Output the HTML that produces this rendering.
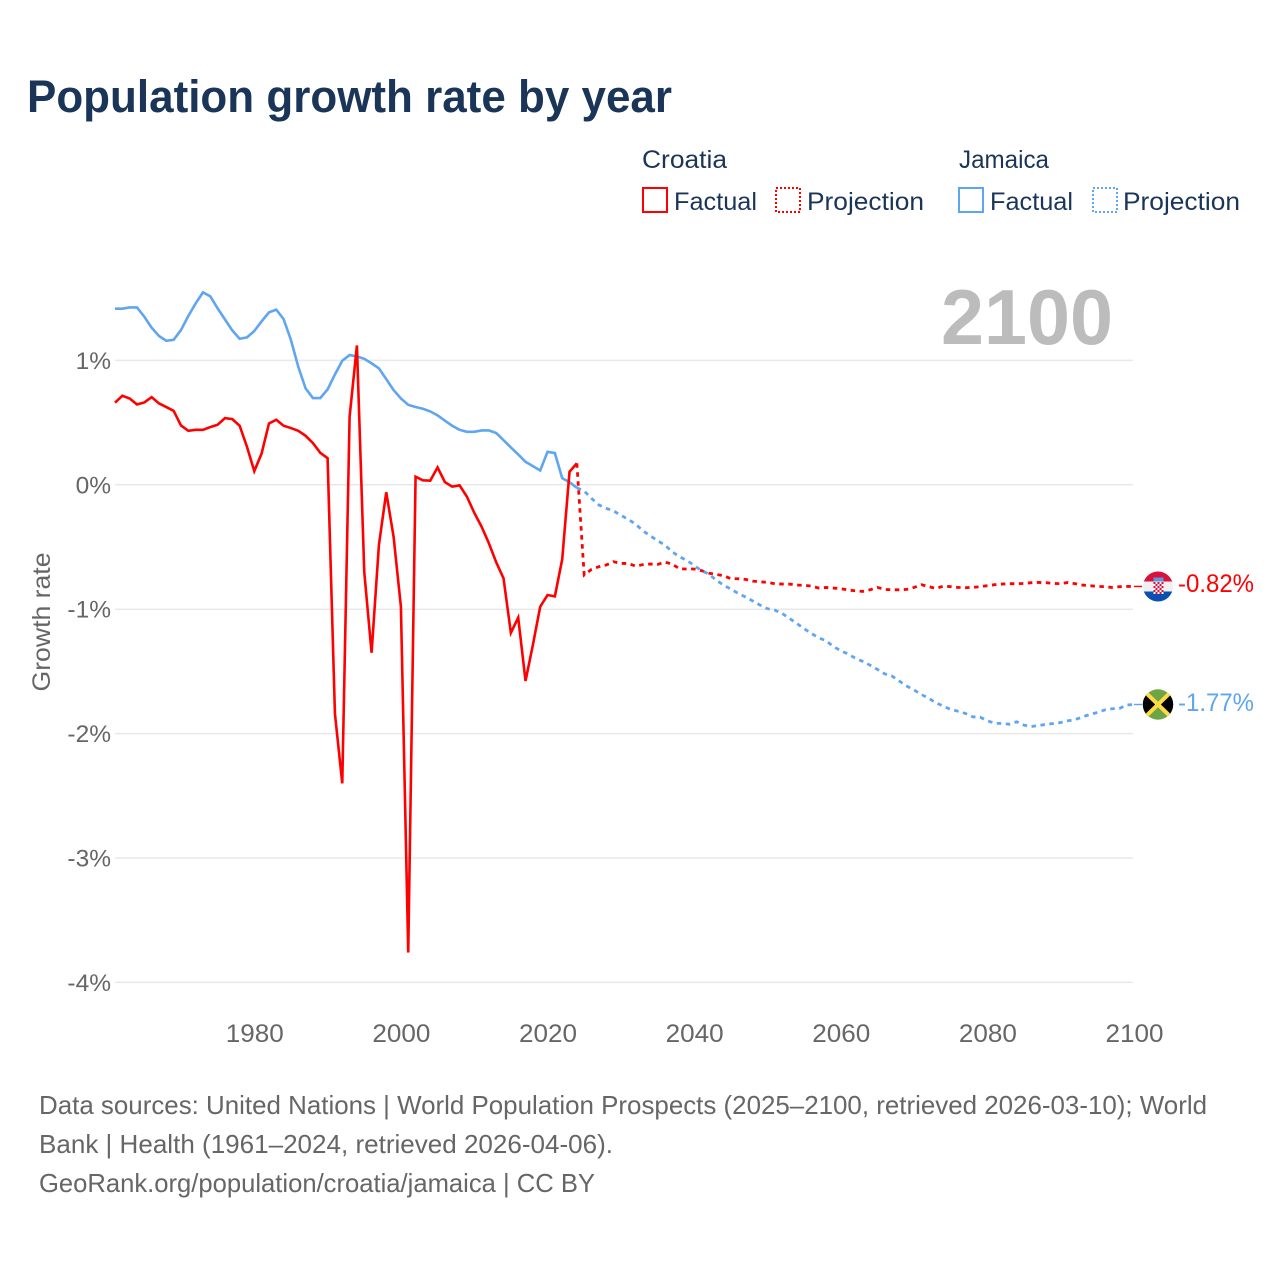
<!DOCTYPE html>
<html lang="en">
<head>
<meta charset="utf-8">
<title>Population growth rate by year</title>
<style>
html,body{margin:0;padding:0;background:#fff;}
svg{display:block;}
text{font-family:"Liberation Sans",sans-serif;}
</style>
</head>
<body>
<svg id="chart" xmlns="http://www.w3.org/2000/svg" width="1280" height="1280" viewBox="0 0 1280 1280">
  <rect width="1280" height="1280" fill="#ffffff"/>
  <text x="27" y="112" font-size="45" font-weight="700" fill="#1a3557" textLength="645" lengthAdjust="spacingAndGlyphs">Population growth rate by year</text>

  <g font-size="25" fill="#1a3557">
    <text x="642" y="168" textLength="85" lengthAdjust="spacingAndGlyphs">Croatia</text>
    <rect x="643" y="188" width="24" height="24" fill="none" stroke="#ff0000" stroke-width="2"/>
    <text x="674" y="210" textLength="83" lengthAdjust="spacingAndGlyphs">Factual</text>
    <rect x="776" y="188" width="24" height="24" fill="none" stroke="#ff0000" stroke-width="2" stroke-dasharray="2 2"/>
    <text x="807" y="210" textLength="117" lengthAdjust="spacingAndGlyphs">Projection</text>
    <text x="959" y="168" textLength="90" lengthAdjust="spacingAndGlyphs">Jamaica</text>
    <rect x="959" y="188" width="24" height="24" fill="none" stroke="#60a5f0" stroke-width="2"/>
    <text x="990" y="210" textLength="83" lengthAdjust="spacingAndGlyphs">Factual</text>
    <rect x="1093" y="188" width="24" height="24" fill="none" stroke="#60a5f0" stroke-width="2" stroke-dasharray="2 2"/>
    <text x="1123" y="210" textLength="117" lengthAdjust="spacingAndGlyphs">Projection</text>
  </g>

  <text x="941" y="344" font-size="78" font-weight="700" fill="#bcbcbc" textLength="172" lengthAdjust="spacingAndGlyphs">2100</text>

  <g id="grid"></g>
  <g id="yticks"></g>
  <g id="xticks"></g>
  <text transform="translate(50,622) rotate(-90)" text-anchor="middle" font-size="25" fill="#666666" textLength="139" lengthAdjust="spacingAndGlyphs">Growth rate</text>
  <g id="series"></g>

  <defs>
    <clipPath id="flag-clip-hr"><circle cx="1158" cy="586.5" r="15"/></clipPath>
    <clipPath id="flag-clip-jm"><circle cx="1158" cy="704.5" r="15.2"/></clipPath>
    <pattern id="hr-checker" x="1153.5" y="582" width="4" height="4" patternUnits="userSpaceOnUse">
      <rect width="4" height="4" fill="#f4f4f4"/>
      <rect width="2" height="2" fill="#d8123c"/>
      <rect x="2" y="2" width="2" height="2" fill="#d8123c"/>
    </pattern>
  </defs>
  <g clip-path="url(#flag-clip-hr)">
    <rect x="1143" y="571" width="30" height="11" fill="#d8123c"/>
    <rect x="1143" y="581.5" width="30" height="10.5" fill="#f0f0f0"/>
    <rect x="1143" y="591.5" width="30" height="11" fill="#0a50b0"/>
    <rect x="1153.5" y="577.5" width="10" height="4" fill="#5a9ae0"/>
    <rect x="1153.5" y="582" width="10" height="12" fill="url(#hr-checker)"/>
  </g>
  <g clip-path="url(#flag-clip-jm)">
    <rect x="1142" y="689" width="32" height="32" fill="#6da544"/>
    <polygon points="1142,689 1158,704.5 1142,720" fill="#000000"/>
    <polygon points="1174,689 1158,704.5 1174,720" fill="#000000"/>
    <line x1="1142" y1="689" x2="1174" y2="720" stroke="#ffda44" stroke-width="4"/>
    <line x1="1174" y1="689" x2="1142" y2="720" stroke="#ffda44" stroke-width="4"/>
  </g>
  <text x="1178" y="592" font-size="25" fill="#ff0000" textLength="76" lengthAdjust="spacingAndGlyphs">-0.82%</text>
  <text x="1178" y="711" font-size="25" fill="#60a5f0" textLength="76" lengthAdjust="spacingAndGlyphs">-1.77%</text>

  <g font-size="26" fill="#666666">
    <text x="39" y="1114" textLength="1168" lengthAdjust="spacingAndGlyphs">Data sources: United Nations | World Population Prospects (2025–2100, retrieved 2026-03-10); World</text>
    <text x="39" y="1153" textLength="574" lengthAdjust="spacingAndGlyphs">Bank | Health (1961–2024, retrieved 2026-04-06).</text>
    <text x="39" y="1192" textLength="556" lengthAdjust="spacingAndGlyphs">GeoRank.org/population/croatia/jamaica | CC BY</text>
  </g>
</svg>
<script>
const xTickYears = [1980, 2000, 2020, 2040, 2060, 2080, 2100];
const yTickValues = [1, 0, -1, -2, -3, -4];
const firstFactualYear = 1961;
const firstProjectionYear = 2024;
const lastYear = 2100;

const croatiaFactual = [0.66,0.716,0.694,0.646,0.662,0.705,0.654,0.625,0.595,0.477,0.434,0.442,0.442,0.464,0.483,0.536,0.528,0.475,0.306,0.11,0.252,0.493,0.523,0.475,0.456,0.434,0.394,0.335,0.257,0.214,-1.84,-2.4,0.547,1.12,-0.7,-1.35,-0.484,-0.06,-0.417,-0.98,-3.76,0.065,0.036,0.033,0.14,0.022,-0.015,-0.004,-0.095,-0.224,-0.336,-0.47,-0.623,-0.752,-1.19,-1.068,-1.577,-1.288,-0.98,-0.886,-0.897,-0.6,0.105,0.173];

const jamaicaFactual = [1.416,1.416,1.426,1.426,1.351,1.263,1.196,1.158,1.166,1.244,1.357,1.458,1.547,1.515,1.418,1.33,1.241,1.174,1.185,1.236,1.314,1.386,1.408,1.332,1.164,0.949,0.775,0.697,0.697,0.767,0.887,0.997,1.043,1.032,1.013,0.976,0.936,0.85,0.761,0.694,0.643,0.625,0.611,0.59,0.558,0.515,0.475,0.442,0.426,0.426,0.437,0.437,0.416,0.359,0.3,0.244,0.185,0.15,0.115,0.265,0.255,0.054,0.021,-0.024];

const croatiaProjection = [0.173,-0.725,-0.68,-0.658,-0.645,-0.618,-0.632,-0.632,-0.653,-0.642,-0.637,-0.64,-0.621,-0.637,-0.675,-0.677,-0.677,-0.69,-0.71,-0.72,-0.73,-0.755,-0.755,-0.76,-0.774,-0.78,-0.784,-0.795,-0.798,-0.798,-0.806,-0.808,-0.814,-0.83,-0.825,-0.83,-0.835,-0.846,-0.852,-0.857,-0.844,-0.825,-0.841,-0.844,-0.844,-0.841,-0.825,-0.803,-0.819,-0.833,-0.814,-0.819,-0.825,-0.827,-0.825,-0.819,-0.811,-0.803,-0.798,-0.795,-0.795,-0.793,-0.787,-0.785,-0.787,-0.793,-0.795,-0.785,-0.795,-0.806,-0.811,-0.817,-0.819,-0.825,-0.819,-0.817,-0.817];

const jamaicaProjection = [-0.024,-0.05,-0.109,-0.162,-0.189,-0.21,-0.245,-0.278,-0.315,-0.369,-0.41,-0.449,-0.484,-0.538,-0.578,-0.608,-0.648,-0.69,-0.717,-0.766,-0.806,-0.838,-0.873,-0.902,-0.934,-0.967,-0.996,-1.007,-1.034,-1.074,-1.114,-1.157,-1.195,-1.23,-1.254,-1.3,-1.334,-1.36,-1.395,-1.42,-1.45,-1.484,-1.52,-1.538,-1.578,-1.618,-1.65,-1.685,-1.717,-1.752,-1.78,-1.806,-1.82,-1.838,-1.865,-1.868,-1.897,-1.916,-1.919,-1.924,-1.905,-1.932,-1.943,-1.935,-1.926,-1.919,-1.911,-1.897,-1.887,-1.865,-1.846,-1.83,-1.81,-1.8,-1.798,-1.77,-1.766];

const SVG_NS = 'http://www.w3.org/2000/svg';
const RED = '#ff0000';
const BLUE = '#60a5f0';

function xScale(year) {
  return 115 + (year - 1961) * (1134 - 115) / (lastYear - 1961);
}
function yScale(value) {
  return 484.8 - value * 124.4;
}
function make(tag, attrs, parent) {
  const el = document.createElementNS(SVG_NS, tag);
  Object.keys(attrs).forEach(function (k) { el.setAttribute(k, attrs[k]); });
  parent.appendChild(el);
  return el;
}
function formatPercent(v) {
  return v + '%';
}

const gridGroup = document.getElementById('grid');
const yTickGroup = document.getElementById('yticks');
const xTickGroup = document.getElementById('xticks');
const seriesGroup = document.getElementById('series');

yTickValues.forEach(function (v) {
  const line = make('line', {x1: 115, x2: 1133, y1: yScale(v), y2: yScale(v), stroke: '#e8e8e8', 'stroke-width': 1.5}, gridGroup);
  
  
  const label = make('text', {x: 111, y: yScale(v) + 8.5, 'text-anchor': 'end', 'font-size': 24.5, fill: '#666666'}, yTickGroup);
  label.textContent = formatPercent(v);
  
  
});

xTickYears.forEach(function (year) {
  const label = make('text', {x: xScale(year) + 0.5, y: 1042, 'text-anchor': 'middle', 'font-size': 25, fill: '#666666', textLength: 58, lengthAdjust: 'spacingAndGlyphs'}, xTickGroup);
  label.textContent = String(year);
  
  
});

function pathFor(values, startYear) {
  return values.map(function (v, i) {
    return (i ? 'L' : 'M') + xScale(startYear + i).toFixed(2) + ' ' + yScale(v).toFixed(2);
  }).join(' ');
}

const lineJamaicaFactual = make('path', {d: pathFor(jamaicaFactual, firstFactualYear), fill: 'none', stroke: BLUE, 'stroke-width': 2.6, 'stroke-linejoin': 'miter', 'stroke-miterlimit': 6}, seriesGroup);



const lineCroatiaFactual = make('path', {d: pathFor(croatiaFactual, firstFactualYear), fill: 'none', stroke: RED, 'stroke-width': 2.6, 'stroke-linejoin': 'miter', 'stroke-miterlimit': 6}, seriesGroup);



const lineCroatiaProjection = make('path', {d: pathFor(croatiaProjection, firstProjectionYear), fill: 'none', stroke: RED, 'stroke-width': 2.8, 'stroke-dasharray': '4.5 4.5'}, seriesGroup);



const lineJamaicaProjection = make('path', {d: pathFor(jamaicaProjection, firstProjectionYear), fill: 'none', stroke: BLUE, 'stroke-width': 2.8, 'stroke-dasharray': '4.5 4.5'}, seriesGroup);



const lastRed = croatiaProjection[croatiaProjection.length - 1];
const lastBlue = jamaicaProjection[jamaicaProjection.length - 1];

const connectorCroatia = make('line', {x1: xScale(lastYear), x2: 1142, y1: yScale(lastRed), y2: yScale(lastRed), stroke: RED, 'stroke-width': 1.4}, seriesGroup);



const connectorJamaica = make('line', {x1: xScale(lastYear), x2: 1142, y1: yScale(lastBlue), y2: yScale(lastBlue), stroke: BLUE, 'stroke-width': 1.4}, seriesGroup);


</script>
</body>
</html>
